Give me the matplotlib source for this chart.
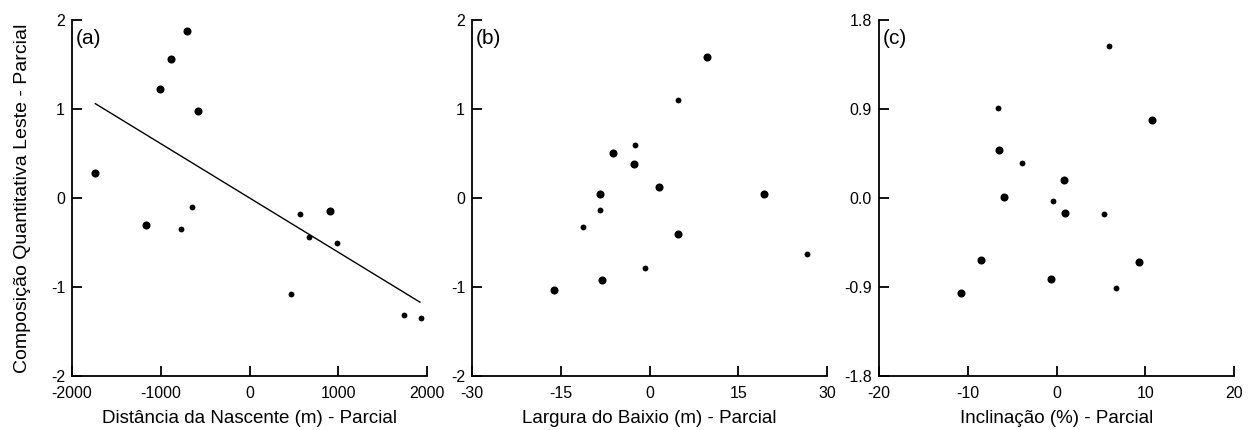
import numpy as np
import matplotlib.pyplot as plt

plt.rcParams['font.family'] = ['Liberation Sans', 'DejaVu Sans']
plt.rcParams['axes.unicode_minus'] = False

# panel (a): distance from spring
dist_x = [-1737, -1163, -1009, -882, -709, -585, -649, -769, 570, 675, 912, 987, 462, 1745, 1928]
dist_y = [0.28, -0.30, 1.22, 1.56, 1.88, 0.98, -0.10, -0.35, -0.18, -0.44, -0.15, -0.50, -1.08, -1.31, -1.35]
dist_big = [1, 1, 1, 1, 1, 1, 0, 0, 0, 0, 1, 0, 0, 0, 0]
fit_x = [-1737, 1920]
fit_y = [1.06, -1.17]

# panel (b): width of lowland
larg_x = [9.7, 4.8, -2.4, -6.2, -2.6, 1.6, -8.4, -8.4, -11.2, 4.8, 19.4, 26.6, -0.8, -8.1, -16.2]
larg_y = [1.58, 1.10, 0.59, 0.51, 0.38, 0.12, 0.04, -0.14, -0.33, -0.41, 0.04, -0.63, -0.79, -0.92, -1.03]
larg_big = [1, 0, 0, 1, 1, 1, 1, 0, 0, 1, 1, 0, 0, 1, 1]

# panel (c): slope
incl_x = [5.9, -6.6, 10.8, -6.5, -3.9, 0.8, -5.9, -0.4, 1.0, 5.4, -8.5, 9.3, -0.6, 6.7, -10.8]
incl_y = [1.54, 0.91, 0.79, 0.49, 0.35, 0.18, 0.01, -0.03, -0.15, -0.16, -0.63, -0.65, -0.82, -0.91, -0.96]
incl_big = [0, 0, 1, 1, 0, 1, 1, 0, 1, 0, 1, 1, 1, 0, 1]

xlabels = ['Distância da Nascente (m) - Parcial',
           'Largura do Baixio (m) - Parcial',
           'Inclinação (%) - Parcial']
letters = ['(a)', '(b)', '(c)']
xticks = [[-2000, -1000, 0, 1000, 2000], [-30, -15, 0, 15, 30], [-20, -10, 0, 10, 20]]
yticks = [[-2, -1, 0, 1, 2], [-2, -1, 0, 1, 2], [-1.8, -0.9, 0.0, 0.9, 1.8]]

fig = plt.figure(figsize=(12.48, 4.30), dpi=100)
lefts = [72, 472, 879]
W, H = 1248, 430

data = [(dist_x, dist_y, dist_big), (larg_x, larg_y, larg_big), (incl_x, incl_y, incl_big)]

for i in range(3):
    ax = fig.add_axes([lefts[i] / W, 54 / H, 355 / W, 356 / H])
    x, y, big = data[i]
    x = np.array(x); y = np.array(y); big = np.array(big, dtype=bool)
    ax.plot(x[big], y[big], 'o', color='black', ms=5.8, mew=0)
    ax.plot(x[~big], y[~big], 'o', color='black', ms=4.2, mew=0)
    if i == 0:
        ax.plot(fit_x, fit_y, color='black', lw=1.0)
    ax.set_xlim(xticks[i][0], xticks[i][-1])
    ax.set_ylim(yticks[i][0], yticks[i][-1])
    ax.set_xticks(xticks[i])
    ax.set_yticks(yticks[i])
    if i == 2:
        ax.set_yticklabels(['%.1f' % v for v in yticks[i]])
    for s in ['top', 'right']:
        ax.spines[s].set_visible(False)
    for s in ['left', 'bottom']:
        ax.spines[s].set_linewidth(1.3)
    ax.tick_params(direction='in', length=7, width=1.3, labelsize=11.5, color='black')
    ax.tick_params(axis='y', pad=5)
    ax.tick_params(axis='x', pad=7)
    # lowest y label sits a little higher, as in the original
    ax.get_yticklabels()[0].set_va('center_baseline')
    ax.set_xlabel(xlabels[i], fontsize=13.5)
    ax.xaxis.set_label_coords(0.5, -0.095)
    ax.text(0.01, 0.975, letters[i], transform=ax.transAxes, fontsize=15,
            ha='left', va='top')
    if i == 0:
        ax.set_ylabel('Composição Quantitativa Leste - Parcial', fontsize=14)
        ax.yaxis.set_label_coords(-0.115, 0.5)

fig.savefig('out.png', dpi=100)
